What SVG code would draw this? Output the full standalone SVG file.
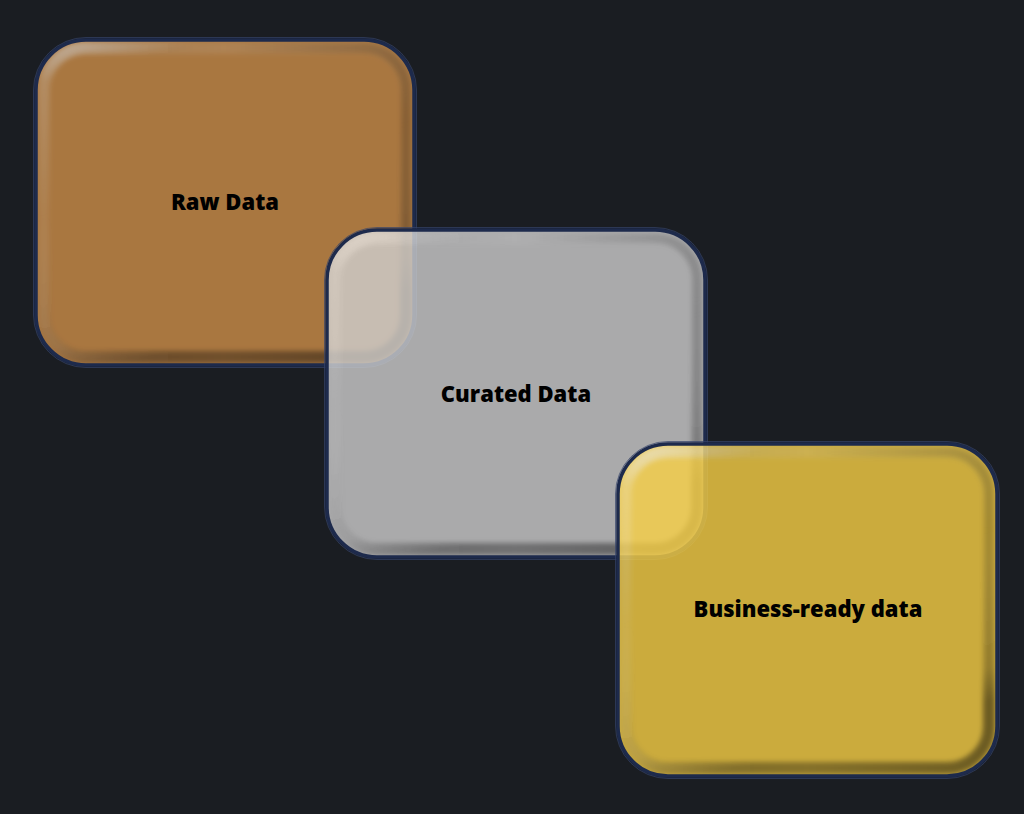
<svg xmlns="http://www.w3.org/2000/svg" width="1024" height="814" viewBox="0 0 1024 814">
<style>
  .lbl{font-family:"Open Sans","Noto Sans","Liberation Sans",sans-serif;font-weight:800;font-size:22px;fill:#000;text-anchor:middle}
  .edge{fill:none;stroke:#1d2a4c;stroke-width:3.5}
  .halo{fill:none;stroke:#34436a;stroke-width:1;opacity:0.7}
  .bevel{fill:none;stroke:url(#bev);stroke-width:12;filter:url(#soft)}
  .side{fill:none;stroke:url(#side);stroke-width:10;filter:url(#soft)}
</style>
<defs>
  <linearGradient id="bev" x1="0" y1="0" x2="0.3" y2="1">
    <stop offset="0" stop-color="#fff" stop-opacity="0.6"/>
    <stop offset="0.1" stop-color="#fff" stop-opacity="0.15"/>
    <stop offset="0.5" stop-color="#fff" stop-opacity="0"/>
    <stop offset="0.9" stop-color="#000" stop-opacity="0.1"/>
    <stop offset="1" stop-color="#000" stop-opacity="0.35"/>
  </linearGradient>
  <linearGradient id="side" x1="0" y1="0" x2="1" y2="0">
    <stop offset="0" stop-color="#fff" stop-opacity="0.1"/>
    <stop offset="0.5" stop-color="#000" stop-opacity="0"/>
    <stop offset="1" stop-color="#000" stop-opacity="0.2"/>
  </linearGradient>
  <filter id="soft" x="-10%" y="-10%" width="120%" height="120%">
    <feGaussianBlur stdDeviation="2.5"/>
  </filter>
  <clipPath id="c1"><rect x="36" y="40" width="378" height="325" rx="50"/></clipPath>
  <clipPath id="c2"><rect x="327" y="230" width="378" height="327" rx="50"/></clipPath>
  <clipPath id="c3"><rect x="618" y="444" width="379" height="332" rx="50"/></clipPath>
</defs>
<rect width="1024" height="814" fill="#1a1d22"/>

<g id="connectors"></g>

<g id="node-raw">
  <g opacity="0.8" clip-path="url(#c1)">
    <rect x="36" y="40" width="378" height="325" rx="50" fill="#ce8f49"/>
    <rect x="44" y="48" width="362" height="309" rx="42" class="bevel"/>
    <rect x="44" y="48" width="362" height="309" rx="42" class="side"/>
  </g>
  <rect x="36" y="40" width="378" height="325" rx="50" class="edge"/>
  <rect x="33.5" y="37.5" width="383" height="330" rx="52.5" class="halo"/>
  <text x="225" y="210" class="lbl">Raw Data</text>
</g>

<g id="node-curated">
  <g opacity="0.8" clip-path="url(#c2)">
    <rect x="327" y="230" width="378" height="327" rx="50" fill="#cfcfcf"/>
    <rect x="335" y="238" width="362" height="311" rx="42" class="bevel"/>
    <rect x="335" y="238" width="362" height="311" rx="42" class="side"/>
  </g>
  <rect x="327" y="230" width="378" height="327" rx="50" class="edge"/>
  <rect x="324.5" y="227.5" width="383" height="332" rx="52.5" class="halo"/>
  <text x="516" y="402" class="lbl">Curated Data</text>
</g>

<g id="node-business">
  <g opacity="0.8" clip-path="url(#c3)">
    <rect x="618" y="444" width="379" height="332" rx="50" fill="#f8d045"/>
    <rect x="626" y="452" width="363" height="316" rx="42" class="bevel"/>
    <rect x="626" y="452" width="363" height="316" rx="42" class="side"/>
  </g>
  <rect x="618" y="444" width="379" height="332" rx="50" class="edge"/>
  <rect x="615.5" y="441.5" width="384" height="337" rx="52.5" class="halo"/>
  <text x="808" y="617" class="lbl">Business-ready data</text>
</g>
</svg>
